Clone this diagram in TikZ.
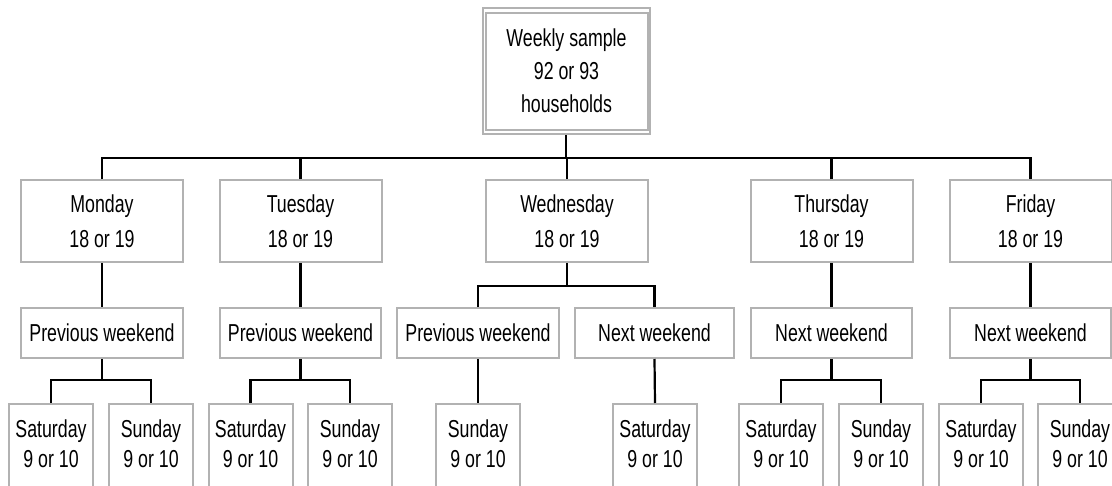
\documentclass[tikz,border=0pt]{standalone}
\usepackage{fontspec}
\setmainfont{Liberation Sans}[FakeStretch=0.725]
\definecolor{boxgray}{RGB}{178,178,178}
\newcommand{\lowtext}[2]{\begin{minipage}[c][110pt][t]{84pt}\centering\fontsize{24.5}{30}\selectfont\rule{0pt}{33.7pt}#1\\#2\end{minipage}}
\begin{document}
\begin{tikzpicture}[x=1pt,y=-1pt,
  boxline/.style={draw=boxgray,line width=2pt},
  topbox/.style={boxline,minimum width=167pt,minimum height=125.7pt,inner sep=0pt,align=center,font=\fontsize{24.5}{33}\selectfont},
  daybox/.style={boxline,minimum width=162pt,minimum height=82pt,inner sep=0pt,align=center,font=\fontsize{24.5}{35}\selectfont},
  wkbox/.style={boxline,minimum height=50pt,inner sep=0pt,align=center,font=\fontsize{24.5}{30}\selectfont},
  lowbox/.style={boxline,inner sep=0pt,anchor=north},
  conn/.style={draw=black,line width=2.2pt}]
\useasboundingbox (0,0) rectangle (1112,485);
\clip (0,0) rectangle (1112,485);
\fill[white] (0,0) rectangle (1112,485);
% top
\node[topbox] (top) at (566.5,71.2) {Weekly sample\\92 or 93\\households};
\draw[boxline] ([shift={(3.7,5.7)}]top.north west) rectangle ([shift={(-3.3,-4.7)}]top.south east);
% days
\node[daybox] (mon) at (102,221) {Monday\\18 or 19};
\node[daybox] (tue) at (300.5,221) {Tuesday\\18 or 19};
\node[daybox] (wed) at (567,221) {Wednesday\\18 or 19};
\node[daybox] (thu) at (831.5,221) {Thursday\\18 or 19};
\node[daybox] (fri) at (1030.5,221) {Friday\\18 or 19};
% weekends
\node[wkbox,minimum width=162pt] (monpw) at (102,333) {Previous weekend};
\node[wkbox,minimum width=161pt] (tuepw) at (300.5,333) {Previous weekend};
\node[wkbox,minimum width=162pt] (wedpw) at (478,333) {Previous weekend};
\node[wkbox,minimum width=159pt] (wednw) at (654.5,333) {Next weekend};
\node[wkbox,minimum width=161pt] (thunw) at (831.5,333) {Next weekend};
\node[wkbox,minimum width=161pt] (frinw) at (1030.5,333) {Next weekend};
% weekend days
\node[lowbox] (monsat) at (51,403) {\lowtext{Saturday}{9 or 10}};
\node[lowbox] (monsun) at (151,403) {\lowtext{Sunday}{9 or 10}};
\node[lowbox] (tuesat) at (250.5,403) {\lowtext{Saturday}{9 or 10}};
\node[lowbox] (tuesun) at (350,403) {\lowtext{Sunday}{9 or 10}};
\node[lowbox] (wedsun) at (478,403) {\lowtext{Sunday}{9 or 10}};
\node[lowbox] (wedsat) at (655,403) {\lowtext{Saturday}{9 or 10}};
\node[lowbox] (thusat) at (781,403) {\lowtext{Saturday}{9 or 10}};
\node[lowbox] (thusun) at (881,403) {\lowtext{Sunday}{9 or 10}};
\node[lowbox] (frisat) at (981,403) {\lowtext{Saturday}{9 or 10}};
\node[lowbox] (frisun) at (1080,403) {\lowtext{Sunday}{9 or 10}};
% junctions
\coordinate (j0) at (566,158);
\coordinate (jwed) at (567,286);
\coordinate (jmon) at (102,380);
\coordinate (jtue) at (300.5,380);
\coordinate (jthu) at (831.5,380);
\coordinate (jfri) at (1030.5,380);
% connectors
\draw[conn] (top.south -| j0) -- (j0);
\draw[conn] (mon.north) |- (j0) -| (fri.north);
\draw[conn] (tue.north) -- (tue.north |- j0);
\draw[conn] (wed.north) -- (wed.north |- j0);
\draw[conn] (thu.north) -- (thu.north |- j0);
\draw[conn] (mon.south) -- (monpw.north);
\draw[conn] (tue.south) -- (tuepw.north);
\draw[conn] (thu.south) -- (thunw.north);
\draw[conn] (fri.south) -- (frinw.north);
\draw[conn] (wed.south) -- (jwed);
\draw[conn] (wedpw.north) |- (jwed) -| (wednw.north);
\draw[conn] (monpw.south) -- (jmon);
\draw[conn] (monsat.north) |- (jmon) -| (monsun.north);
\draw[conn] (tuepw.south) -- (jtue);
\draw[conn] (tuesat.north) |- (jtue) -| (tuesun.north);
\draw[conn] (thunw.south) -- (jthu);
\draw[conn] (thusat.north) |- (jthu) -| (thusun.north);
\draw[conn] (frinw.south) -- (jfri);
\draw[conn] (frisat.north) |- (jfri) -| (frisun.north);
\draw[conn] (wedpw.south) -- (wedsun.north);
\draw[conn] (wednw.south) -- (wedsat.north);
\end{tikzpicture}
\end{document}
